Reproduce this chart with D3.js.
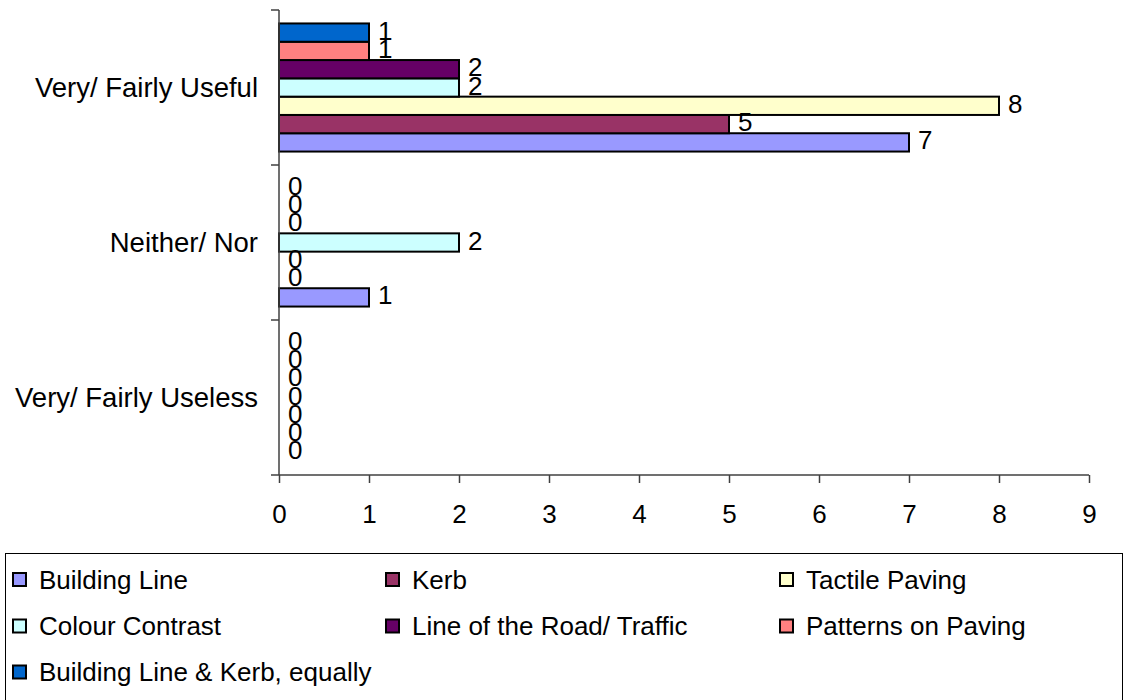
<!DOCTYPE html>
<html>
<head>
<meta charset="utf-8">
<script src="https://cdn.jsdelivr.net/npm/d3@7/dist/d3.min.js"></script>
<style>
  html, body { margin: 0; padding: 0; background: #fff; }
  svg { display: block; }
  text { font-family: "Liberation Sans", Arial, sans-serif; fill: #000; }
</style>
</head>
<body>
<svg id="chart" width="1130" height="700"></svg>
<script>
const categories = ["Very/ Fairly Useful", "Neither/ Nor", "Very/ Fairly Useless"];
const seriesNames = ["Building Line", "Kerb", "Tactile Paving", "Colour Contrast",
  "Line of the Road/ Traffic", "Patterns on Paving", "Building Line & Kerb, equally"];
const seriesColors = ["#9999FF", "#993366", "#FFFFCC", "#CCFFFF", "#660066", "#FF8080", "#0066CC"];
const buildingLine = [7, 1, 0];
const kerb = [5, 0, 0];
const tactilePaving = [8, 0, 0];
const colourContrast = [2, 2, 0];
const lineOfRoad = [2, 0, 0];
const patternsOnPaving = [1, 0, 0];
const buildingLineKerb = [1, 0, 0];
const xTicks = [0, 1, 2, 3, 4, 5, 6, 7, 8, 9];

const seriesValues = [buildingLine, kerb, tactilePaving, colourContrast, lineOfRoad, patternsOnPaving, buildingLineKerb];

const svg = d3.select("#chart");
const plot = { left: 279, right: 1089, top: 10, bottom: 475 };
const FONT = 26;
const CAT_FONT = 27.5;

const x = d3.scaleLinear().domain([0, 9]).range([plot.left, plot.right]);
const y = d3.scaleBand().domain(categories).range([plot.top, plot.bottom]).padding(0);
// series within a band: first series at bottom
const ySeries = d3.scaleBand().domain(d3.range(seriesNames.length).reverse())
  .range([0, y.bandwidth()]).paddingInner(0).paddingOuter(0.735);

// bars
seriesValues.forEach((vals, si) => {
  const g = svg.append("g");
  categories.forEach((cat, ci) => {
    const v = vals[ci];
    const by = y(cat) + ySeries(si);
    if (v > 0) {
      g.append("rect")
        .attr("x", x(0))
        .attr("y", by)
        .attr("width", x(v) - x(0))
        .attr("height", ySeries.bandwidth())
        .attr("fill", seriesColors[si])
        .attr("stroke", "#000")
        .attr("stroke-width", 2);
    }
  });
});

// labels
seriesValues.forEach((vals, si) => {
  categories.forEach((cat, ci) => {
    const v = vals[ci];
    const cy = y(cat) + ySeries(si) + ySeries.bandwidth() / 2;
    svg.append("text")
      .attr("x", x(v) + 9)
      .attr("y", cy - 2)
      .attr("dy", "0.35em")
      .attr("font-size", FONT)
      .text(v);
  });
});

// y axis
const yAxisG = svg.append("g");
yAxisG.append("line")
  .attr("x1", plot.left).attr("x2", plot.left)
  .attr("y1", plot.top).attr("y2", plot.bottom)
  .attr("stroke", "#404040").attr("stroke-width", 1.5);
const yTickPos = categories.map(c => y(c)).concat([plot.bottom]);
yTickPos.forEach(py => {
  yAxisG.append("line")
    .attr("x1", plot.left - 8).attr("x2", plot.left)
    .attr("y1", py).attr("y2", py)
    .attr("stroke", "#404040").attr("stroke-width", 1.5);
});
categories.forEach(cat => {
  yAxisG.append("text")
    .attr("x", 258)
    .attr("y", y(cat) + y.bandwidth() / 2)
    .attr("dy", "0.35em")
    .attr("text-anchor", "end")
    .attr("font-size", CAT_FONT)
    .text(cat);
});

// x axis
const xAxis = d3.axisBottom(x).tickValues(xTicks).tickSize(8).tickPadding(22).tickFormat(d3.format("d"));
const xAxisG = svg.append("g")
  .attr("transform", `translate(0,${plot.bottom})`)
  .call(xAxis);
xAxisG.select(".domain").attr("stroke", "#404040").attr("stroke-width", 1.5)
  .attr("d", `M${plot.left},0H${plot.right}`);
xAxisG.selectAll(".tick line").attr("stroke", "#404040").attr("stroke-width", 1.5);
xAxisG.selectAll(".tick text")
  .attr("font-size", FONT)
  .attr("font-family", "'Liberation Sans', Arial, sans-serif")
  .attr("fill", "#000");

// legend
const legend = svg.append("g");
legend.append("rect")
  .attr("x", 5.5).attr("y", 553.5)
  .attr("width", 1117).attr("height", 160)
  .attr("fill", "#fff").attr("stroke", "#000").attr("stroke-width", 1);
const colX = [13, 386, 780];
const rowY = [579.5, 626, 672];
seriesNames.forEach((name, i) => {
  const cx = colX[i % 3];
  const cy = rowY[Math.floor(i / 3)];
  legend.append("rect")
    .attr("x", cx).attr("y", cy - 6.5)
    .attr("width", 13).attr("height", 13)
    .attr("fill", seriesColors[i])
    .attr("stroke", "#000").attr("stroke-width", 2);
  legend.append("text")
    .attr("x", cx + 26)
    .attr("y", cy)
    .attr("dy", "0.35em")
    .attr("font-size", FONT)
    .text(name);
});
</script>
</body>
</html>
